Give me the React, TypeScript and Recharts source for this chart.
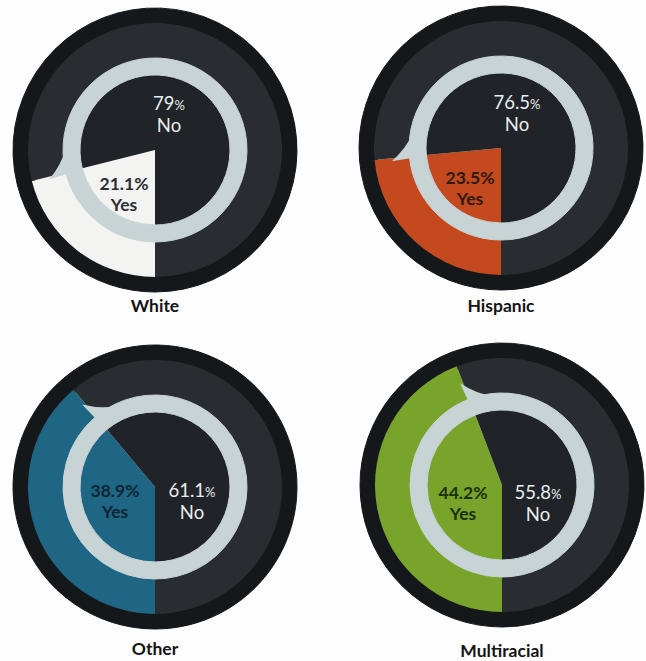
import { PieChart, Pie, Cell } from 'recharts'

// data
const groups = ['White', 'Hispanic', 'Other', 'Multiracial']
const answers = ['Yes', 'No']
const yesShare = [21.1, 23.5, 38.9, 44.2]
const noShare = [79, 76.5, 61.1, 55.8]

// colours
const yesColors = ['#f3f3f1', '#c4491f', '#1e6683', '#79a42b']
const yesTextColors = ['#2a2e32', '#2e1a12', '#0e2533', '#1c300e']
const RIM = '#15181a'
const BAND = '#292d32'
const DISK = '#202428'
const RING = '#c7d3d5'
const FONT = "Lato, 'Open Sans', sans-serif"

// layout: panel centres, label anchors relative to the centre, title rows
const centres = [[155, 150], [501, 148], [155, 487], [502, 485]]
const yesAnchor = [[-31, 40], [-31, 36], [-40, 10], [-39, 14]]
const noAnchor = [[14, -40], [16, -39], [37, 10], [36, 14]]
const titleY = [307, 307, 650, 652]

const HALF = 150

const polar = (cx: number, cy: number, r: number, deg: number) => {
  const rad = (-deg * Math.PI) / 180
  return `${cx + r * Math.cos(rad)},${cy + r * Math.sin(rad)}`
}

// little pointer on the ring where the "Yes" slice ends
const renderTail = (p: any) => {
  if (p.index !== 0) return null
  const e = p.endAngle
  const a = polar(p.cx, p.cy, 90, e + 1)
  const tip = polar(p.cx, p.cy, 110, e + 1.5)
  const c = polar(p.cx, p.cy, 95, e - 5)
  const b = polar(p.cx, p.cy, 90, e - 14)
  return <path d={`M${a} L${tip} Q${c} ${b} Z`} fill={RING} />
}

const makeLabel = (i: number) => (p: any) => {
  const isYes = p.index === 0
  const [dx, dy] = isYes ? yesAnchor[i] : noAnchor[i]
  const x = p.cx + dx
  const y = p.cy + dy
  const pct = String(p.value)
  if (isYes) {
    return (
      <text x={x} y={y} fontFamily={FONT} fill={yesTextColors[i]} textAnchor="middle" fontWeight={700} fontSize={17.5}>
        <tspan x={x}>{pct}%</tspan>
        <tspan x={x} dy={21}>{answers[0]}</tspan>
      </text>
    )
  }
  return (
    <text x={x} y={y} fontFamily={FONT} fill="#e9edee" textAnchor="middle" fontSize={18.5}>
      <tspan x={x}>{pct}</tspan>
      <tspan fontSize={13}>%</tspan>
      <tspan x={x} dy={22}>{answers[1]}</tspan>
    </text>
  )
}

const Panel = ({ i }: { i: number }) => {
  const data = answers.map((name, k) => ({ name, value: k === 0 ? yesShare[i] : noShare[i] }))
  const [x, y] = centres[i]
  const common = {
    data,
    dataKey: 'value',
    cx: HALF,
    cy: HALF,
    startAngle: 270,
    endAngle: -90,
    isAnimationActive: false,
  }
  return (
    <>
      <div style={{ position: 'absolute', left: x - HALF, top: y - HALF }}>
        <PieChart width={HALF * 2} height={HALF * 2} margin={{ top: 0, right: 0, bottom: 0, left: 0 }}>
          <Pie {...common} innerRadius={124} outerRadius={142} fill={RIM} stroke={RIM} strokeWidth={1} />
          <Pie {...common} innerRadius={88} outerRadius={127} stroke="none">
            <Cell fill={yesColors[i]} />
            <Cell fill={BAND} />
          </Pie>
          <Pie {...common} innerRadius={0} outerRadius={78} stroke="none" label={makeLabel(i)} labelLine={false}>
            <Cell fill={yesColors[i]} />
            <Cell fill={DISK} />
          </Pie>
          <Pie {...common} innerRadius={75} outerRadius={92} fill={RING} stroke={RING} strokeWidth={1} label={renderTail} labelLine={false} />
        </PieChart>
      </div>
      <div
        style={{
          position: 'absolute',
          left: x - 90,
          width: 180,
          top: titleY[i] - 11,
          textAlign: 'center',
          fontFamily: FONT,
          fontWeight: 700,
          fontSize: 17.5,
          lineHeight: '20px',
          color: '#141414',
        }}
      >
        {groups[i]}
      </div>
    </>
  )
}

export default function App() {
  return (
    <div style={{ position: 'absolute', left: 0, top: 0, width: 646, height: 661, background: '#fdfdfd', overflow: 'hidden' }}>
      {groups.map((g, i) => (
        <Panel key={g} i={i} />
      ))}
    </div>
  )
}
